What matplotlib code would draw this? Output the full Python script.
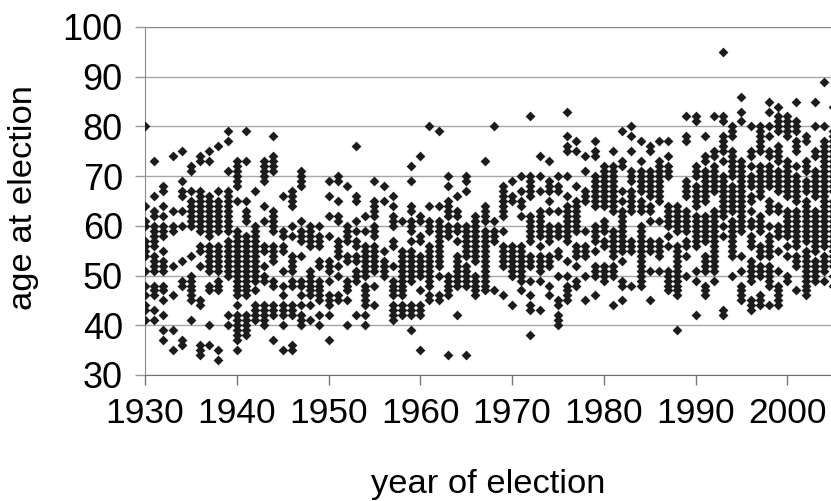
import matplotlib
matplotlib.use('Agg')  # Non-interactive backend
import matplotlib.pyplot as plt

x_label = 'year of election'
y_label = 'age at election'
x_ticks = [1930, 1940, 1950, 1960, 1970, 1980, 1990, 2000]
y_ticks = [30, 40, 50, 60, 70, 80, 90, 100]

# ages, one inner list per election year
ages_1930s = [
    [80, 64, 61, 60, 57, 56, 55, 54, 51, 48, 46, 44, 43, 41],
    [73, 66, 63, 62, 60, 59, 58, 57, 56, 54, 53, 52, 51, 48, 47, 46, 43, 41],
    [68, 67, 64, 62, 60, 59, 58, 55, 53, 52, 51, 48, 47, 45, 42, 39, 37],
    [74, 63, 60, 59, 52, 46, 39, 35],
    [75, 69, 67, 66, 63, 60, 53, 49, 48, 37, 36],
    [72, 71, 67, 65, 64, 63, 62, 61, 60, 54, 50, 49, 48, 47, 46, 45, 41],
    [74, 73, 67, 66, 65, 64, 63, 62, 61, 60, 59, 56, 55, 52, 45, 44, 36, 35, 34],
    [75, 73, 66, 65, 64, 63, 62, 61, 60, 59, 58, 56, 55, 54, 53, 52, 51, 48, 47, 40, 36],
    [76, 67, 65, 64, 63, 62, 61, 60, 59, 56, 55, 54, 53, 52, 51, 49, 48, 47, 35, 33],
    [79, 77, 71, 67, 66, 65, 64, 63, 62, 61, 60, 59, 57, 56, 55, 54, 53, 52, 51, 50, 42, 40],
]
ages_1940s = [
    [73, 72, 71, 70, 69, 68, 65, 59, 58, 57, 56, 55, 54, 53, 52, 51, 50, 49, 48, 47, 46, 44, 42, 41, 40, 39, 38, 37, 35],
    [79, 73, 65, 63, 62, 61, 58, 57, 56, 55, 54, 53, 52, 51, 50, 49, 48, 47, 46, 42, 41, 40, 39, 38],
    [67, 60, 59, 58, 57, 56, 55, 54, 53, 52, 51, 50, 49, 47, 44, 43, 42, 41],
    [73, 72, 71, 70, 69, 64, 61, 56, 55, 52, 50, 49, 44, 43, 42, 41, 40],
    [78, 74, 73, 72, 71, 63, 62, 61, 60, 59, 56, 55, 54, 53, 49, 48, 44, 43, 42, 37],
    [66, 59, 58, 56, 55, 51, 48, 46, 44, 43, 42, 40, 35],
    [67, 66, 65, 64, 60, 58, 54, 53, 52, 51, 49, 48, 44, 43, 42, 36, 35],
    [71, 70, 69, 68, 61, 59, 58, 57, 54, 49, 48, 46, 44, 42, 41, 40],
    [60, 59, 58, 57, 56, 51, 50, 49, 48, 47, 46, 44, 41],
    [60, 58, 57, 56, 53, 52, 49, 48, 47, 46, 45, 42, 40],
]
ages_1950s = [
    [69, 66, 62, 58, 53, 52, 51, 49, 46, 45, 44, 42, 37],
    [70, 69, 65, 62, 61, 57, 56, 55, 54, 52, 50, 46, 45],
    [68, 60, 59, 58, 57, 54, 53, 49, 48, 47, 45, 40],
    [76, 66, 65, 61, 59, 57, 56, 54, 53, 51, 50, 49, 42],
    [62, 59, 56, 55, 54, 53, 52, 51, 50, 48, 47, 46, 45, 44, 42, 40],
    [69, 65, 64, 63, 62, 60, 59, 58, 56, 55, 54, 53, 52, 51, 48, 44],
    [68, 65, 55, 53, 52, 51, 50],
    [66, 64, 62, 61, 60, 57, 56, 52, 49, 48, 47, 46, 44, 43, 42, 41],
    [61, 55, 54, 53, 52, 51, 50, 49, 48, 47, 46, 44, 43, 42],
    [72, 69, 64, 63, 61, 60, 59, 57, 55, 54, 53, 52, 51, 50, 49, 44, 43, 42, 39],
]
ages_1960s = [
    [74, 62, 61, 58, 57, 54, 53, 52, 51, 50, 47, 44, 43, 42, 35],
    [80, 64, 61, 60, 59, 56, 55, 54, 53, 52, 51, 50, 49, 48, 46, 45],
    [79, 64, 61, 60, 59, 58, 57, 56, 55, 54, 53, 52, 50, 46, 45],
    [70, 68, 65, 64, 63, 62, 60, 59, 58, 50, 49, 48, 47, 46, 34],
    [66, 63, 62, 60, 59, 57, 54, 53, 52, 51, 50, 49, 48, 42],
    [70, 69, 67, 60, 59, 58, 57, 56, 55, 54, 52, 51, 50, 49, 48, 34],
    [62, 61, 60, 59, 58, 57, 56, 55, 54, 53, 50, 49, 48, 47, 46],
    [73, 64, 63, 62, 61, 59, 58, 57, 56, 55, 54, 53, 52, 51, 50, 49, 48, 47],
    [80, 61, 59, 58, 57, 47],
    [68, 67, 66, 65, 64, 63, 62, 59, 56, 55, 54, 53, 52, 46],
]
ages_1970s = [
    [69, 66, 65, 56, 55, 54, 53, 52, 51, 50, 44],
    [70, 67, 65, 64, 62, 56, 55, 54, 53, 52, 51, 50, 49, 47],
    [82, 70, 69, 68, 67, 66, 62, 61, 60, 59, 58, 57, 54, 53, 52, 49, 46, 44, 43, 38],
    [74, 70, 67, 63, 62, 61, 60, 59, 58, 56, 54, 53, 52, 51, 49, 43],
    [73, 69, 68, 67, 65, 63, 60, 59, 58, 57, 54, 53, 52, 48, 46],
    [70, 68, 67, 63, 60, 59, 58, 55, 54, 50, 45, 44, 42, 41, 40],
    [83, 78, 76, 75, 70, 66, 64, 63, 62, 61, 60, 59, 58, 57, 53, 50, 48, 47, 46, 45],
    [77, 75, 68, 65, 64, 63, 62, 61, 60, 59, 56, 55, 54, 52, 49, 48],
    [74, 71, 67, 66, 65, 59, 56, 55, 54, 50, 45],
    [77, 75, 74, 70, 69, 68, 67, 66, 65, 64, 60, 59, 58, 57, 55, 52, 51, 50, 46],
]
ages_1980s = [
    [72, 71, 70, 69, 68, 67, 66, 65, 64, 61, 60, 59, 57, 56, 52, 51, 50, 49],
    [75, 72, 71, 70, 69, 68, 67, 66, 65, 64, 63, 59, 58, 57, 56, 55, 54, 52, 51, 50, 44],
    [79, 73, 72, 67, 65, 63, 62, 61, 60, 59, 58, 57, 56, 55, 53, 49, 48, 45],
    [80, 78, 75, 71, 70, 69, 67, 66, 65, 64, 63, 57, 56, 55, 48],
    [77, 73, 71, 70, 69, 68, 67, 65, 64, 63, 60, 59, 58, 57, 56, 55, 54, 53, 52, 51, 50, 49, 48],
    [76, 75, 71, 70, 69, 68, 67, 66, 64, 63, 61, 57, 56, 55, 51, 45],
    [77, 73, 72, 71, 70, 69, 68, 67, 66, 65, 61, 57, 56, 55, 54, 51],
    [77, 74, 72, 71, 70, 64, 63, 62, 61, 60, 58, 56, 51, 50, 49, 48, 47],
    [64, 63, 62, 61, 60, 59, 56, 55, 54, 53, 52, 51, 50, 49, 48, 47, 46, 39],
    [82, 78, 77, 69, 68, 67, 66, 63, 62, 61, 60, 59, 57, 56, 54, 50],
]
ages_1990s = [
    [82, 81, 72, 71, 70, 68, 67, 66, 65, 64, 62, 61, 60, 59, 58, 57, 56, 51, 49, 42],
    [78, 74, 73, 71, 70, 69, 68, 67, 66, 65, 62, 61, 60, 59, 58, 57, 54, 53, 52, 51, 48, 47, 46],
    [82, 75, 74, 72, 71, 70, 69, 68, 67, 63, 62, 61, 60, 59, 58, 57, 56, 55, 54, 53, 52, 51, 49],
    [95, 82, 81, 78, 77, 76, 75, 73, 70, 69, 68, 67, 66, 65, 64, 63, 62, 60, 58, 43, 42],
    [80, 79, 78, 75, 74, 73, 72, 71, 70, 68, 67, 66, 65, 64, 63, 61, 60, 59, 58, 57, 56, 55, 54, 50],
    [86, 83, 81, 73, 72, 71, 70, 69, 68, 67, 66, 65, 64, 63, 62, 61, 60, 59, 54, 51, 48, 47, 46, 45],
    [80, 75, 74, 72, 70, 69, 68, 66, 65, 63, 61, 60, 58, 57, 56, 53, 52, 51, 50, 49, 45, 44, 43],
    [80, 79, 78, 77, 76, 75, 72, 71, 70, 69, 68, 67, 66, 62, 61, 60, 59, 56, 55, 54, 52, 51, 50, 46, 45, 44],
    [85, 83, 80, 78, 75, 74, 72, 71, 70, 69, 68, 65, 64, 63, 60, 58, 57, 56, 55, 54, 52, 51, 50, 49, 48, 44],
    [84, 82, 81, 80, 79, 76, 75, 74, 73, 71, 70, 69, 68, 67, 64, 63, 60, 59, 58, 55, 51, 48, 47, 46, 45, 44],
]
ages_2000s = [
    [82, 81, 80, 79, 78, 73, 72, 71, 70, 69, 68, 67, 66, 63, 62, 61, 60, 59, 58, 56, 54, 50, 49],
    [85, 81, 80, 79, 77, 76, 75, 72, 70, 69, 68, 67, 66, 65, 63, 62, 61, 60, 59, 58, 57, 56, 54, 53, 52, 47],
    [78, 77, 73, 72, 71, 69, 68, 67, 65, 64, 63, 62, 61, 60, 59, 58, 57, 55, 54, 53, 52, 51, 50, 49, 48, 47, 46],
    [85, 80, 75, 74, 71, 70, 69, 68, 67, 66, 63, 62, 61, 60, 59, 58, 57, 56, 55, 53, 52, 51, 50, 49],
    [89, 80, 77, 76, 75, 74, 73, 72, 71, 70, 69, 68, 67, 66, 65, 64, 63, 62, 61, 60, 59, 58, 57, 56, 54, 53, 52, 51, 49],
    [84, 79, 78, 77, 76, 75, 74, 73, 72, 71, 70, 69, 68, 67, 65, 64, 63, 62, 61, 60, 59, 58, 57, 56, 55, 54, 53, 52, 50, 48],
]


def main():
    plt.rcParams['font.family'] = ['Liberation Sans', 'DejaVu Sans']
    fig = plt.figure(figsize=(8.31, 5.01), dpi=100)

    # axes run past the right edge, the original is cut off there
    ax = fig.add_axes([145 / 831, 1 - 375 / 501, 697 / 831, 348 / 501])

    all_years = ages_1930s + ages_1940s + ages_1950s + ages_1960s + ages_1970s + ages_1980s + ages_1990s + ages_2000s
    for i, ages in enumerate(all_years):
        ax.scatter([1930 + i] * len(ages), ages, marker='D', s=25, color='#1c1c1c',
                   linewidths=0, zorder=3)

    ax.set_xlim(1930, 1930 + 697 / 9.176)
    ax.set_ylim(30, 100)
    ax.set_xticks(x_ticks)
    ax.set_yticks(y_ticks)
    ax.tick_params(axis='x', length=7, width=1, color='#777777', labelsize=25.5, pad=9)
    ax.tick_params(axis='y', length=7, width=1, color='#999999', labelsize=26, pad=9)
    ax.yaxis.grid(True, color='#a6a6a6', linewidth=1)
    ax.set_axisbelow(True)

    ax.spines['right'].set_visible(False)
    ax.spines['top'].set_color('#8a8a8a')
    ax.spines['top'].set_linestyle((0, (1, 1)))
    ax.spines['left'].set_color('#8a8a8a')
    ax.spines['left'].set_linestyle((0, (1, 1)))
    ax.spines['bottom'].set_color('#707070')

    fig.text(488 / 831, 1 - 485 / 501, x_label, fontsize=24.8, ha='center', va='center')
    fig.text(24 / 831, 1 - 198 / 501, y_label, fontsize=24.8, rotation=90, ha='center', va='center')

    fig.savefig('out.png', dpi=100)
    plt.close(fig)


if __name__ == "__main__":
    main()
